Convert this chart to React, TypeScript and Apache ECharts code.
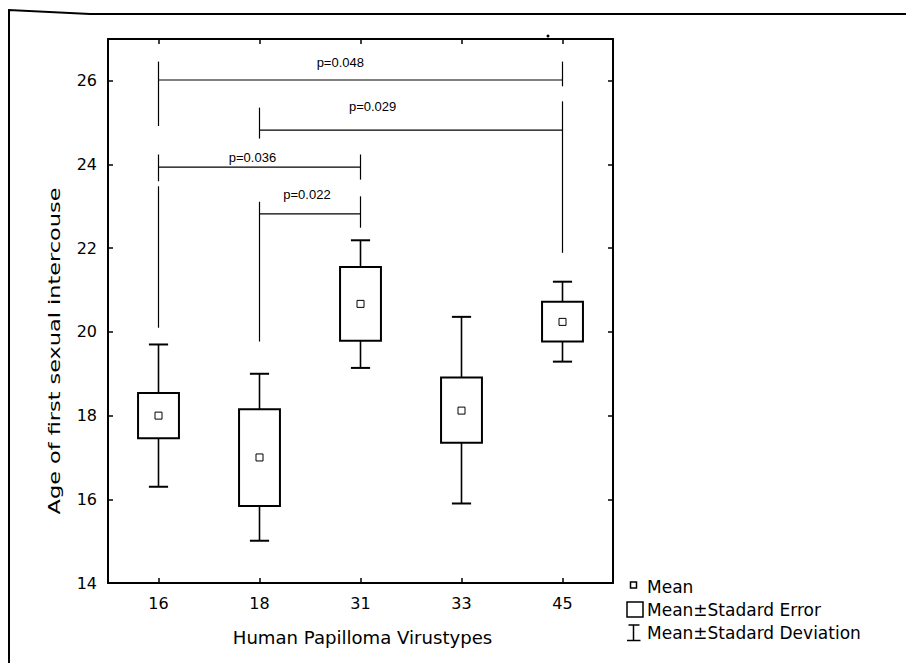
import React, { useEffect, useRef } from "react";
import * as echarts from "echarts";

// ---- data ----
const categories = ["16", "18", "31", "33", "45"];
const means = [18.0, 17.0, 20.67, 18.12, 20.24];
const seUpper = [18.54, 18.15, 21.55, 18.91, 20.72];
const seLower = [17.46, 15.84, 19.79, 17.35, 19.77];
const sdUpper = [19.7, 19.0, 22.19, 20.36, 21.2];
const sdLower = [16.3, 15.01, 19.14, 15.9, 19.29];

const yMin = 14;
const yMax = 27;
const yStep = 2;

// significance brackets (category index from/to, level of the horizontal line)
const bracketFrom = [0, 1, 0, 1];
const bracketTo = [4, 4, 2, 2];
const bracketLevel = [26.02, 24.82, 23.94, 22.82];
const bracketLabels = ["p=0.048", "p=0.029", "p=0.036", "p=0.022"];
const labelCat = [1.8, 2.12, 0.93, 1.47];
const labelLevel = [26.45, 25.39, 24.17, 23.28];

// vertical legs of the brackets (category, top value, bottom value)
const legCat = [0, 0, 0, 1, 1, 2, 2, 4, 4];
const legTop = [26.46, 24.24, 23.48, 25.36, 23.11, 24.24, 23.24, 26.46, 25.51];
const legBottom = [24.92, 23.6, 20.1, 24.62, 19.77, 23.64, 22.49, 25.87, 21.89];

const legendItems = ["Mean", "Mean±Stadard Error", "Mean±Stadard Deviation"];
const xTitle = "Human Papilloma Virustypes";
const yTitle = "Age of first sexual intercouse";

const FONT = "'DejaVu Sans', sans-serif";
const PFONT = "'Liberation Sans', Arial, sans-serif";

export default function App() {
  const ref = useRef<HTMLDivElement>(null);

  useEffect(() => {
    if (!ref.current) return;
    const chart = echarts.init(ref.current, undefined, {
      renderer: "svg",
      width: 906,
      height: 663,
    });

    const axisLine = { show: true, lineStyle: { color: "#000", width: 2 } };
    const axisTick = {
      show: true,
      inside: true,
      length: 5,
      lineStyle: { color: "#000", width: 1.5 },
    };

    const boxData = categories.map((_, i) => [
      i,
      means[i],
      seLower[i],
      seUpper[i],
      sdLower[i],
      sdUpper[i],
    ]);

    const option: any = {
      animation: false,
      backgroundColor: "#fff",
      grid: { left: 108, top: 39, width: 505, height: 544, show: false },
      xAxis: [
        {
          type: "category",
          data: categories,
          position: "bottom",
          boundaryGap: true,
          axisLine,
          axisTick: { ...axisTick, alignWithLabel: true },
          axisLabel: { color: "#000", fontFamily: FONT, fontSize: 16, margin: 12 },
          splitLine: { show: false },
        },
        {
          type: "category",
          data: categories,
          position: "top",
          boundaryGap: true,
          axisLine,
          axisTick: { ...axisTick, alignWithLabel: true },
          axisLabel: { show: false },
          splitLine: { show: false },
        },
      ],
      yAxis: [
        {
          type: "value",
          min: yMin,
          max: yMax,
          interval: yStep,
          position: "left",
          axisLine,
          axisTick,
          axisLabel: {
            color: "#000",
            fontFamily: FONT,
            fontSize: 16,
            margin: 11,
            showMaxLabel: false,
            formatter: (v: number) => (v === yMax ? "" : String(v)),
          },
          splitLine: { show: false },
        },
        {
          type: "value",
          min: yMin,
          max: yMax,
          interval: yStep,
          position: "right",
          axisLine,
          axisTick,
          axisLabel: { show: false },
          splitLine: { show: false },
        },
      ],
      series: [
        // bracket legs
        {
          type: "custom",
          coordinateSystem: "cartesian2d",
          xAxisIndex: 0,
          yAxisIndex: 0,
          silent: true,
          data: legCat.map((c, i) => [c, legTop[i], legBottom[i]]),
          renderItem: (params: any, api: any) => {
            const p1 = api.coord([api.value(0), api.value(1)]);
            const p2 = api.coord([api.value(0), api.value(2)]);
            return {
              type: "line",
              shape: { x1: p1[0], y1: p1[1], x2: p2[0], y2: p2[1] },
              style: { stroke: "#000", lineWidth: 1.2 },
            };
          },
        },
        // bracket horizontal lines
        {
          type: "custom",
          coordinateSystem: "cartesian2d",
          xAxisIndex: 0,
          yAxisIndex: 0,
          silent: true,
          data: bracketFrom.map((f, i) => [f, bracketLevel[i], bracketTo[i]]),
          renderItem: (params: any, api: any) => {
            const p1 = api.coord([api.value(0), api.value(1)]);
            const p2 = api.coord([api.value(2), api.value(1)]);
            return {
              type: "line",
              shape: { x1: p1[0], y1: p1[1], x2: p2[0], y2: p2[1] },
              style: { stroke: "#000", lineWidth: 1.2 },
            };
          },
        },
        // bracket labels
        {
          type: "custom",
          coordinateSystem: "cartesian2d",
          xAxisIndex: 0,
          yAxisIndex: 0,
          silent: true,
          data: labelCat.map((c, i) => [0, labelLevel[i], c, i]),
          renderItem: (params: any, api: any) => {
            const base = api.coord([0, api.value(1)]);
            const band = api.size([1, 0])[0];
            const idx = api.value(3);
            return {
              type: "text",
              x: base[0] + api.value(2) * band,
              y: base[1],
              style: {
                text: bracketLabels[idx],
                fontFamily: PFONT,
                fontSize: 13,
                fill: "#000",
                textAlign: "center",
                textVerticalAlign: "middle",
                align: "center",
                verticalAlign: "middle",
              },
            };
          },
        },
        // mean / SE / SD boxes
        {
          type: "custom",
          coordinateSystem: "cartesian2d",
          xAxisIndex: 0,
          yAxisIndex: 0,
          silent: true,
          data: boxData,
          renderItem: (params: any, api: any) => {
            const i = api.value(0);
            const band = api.size([1, 0])[0];
            const bw = band * 0.405;
            const cw = band * 0.19;
            const pm = api.coord([i, api.value(1)]);
            const x = pm[0];
            const yMean = pm[1];
            const ySeL = api.coord([i, api.value(2)])[1];
            const ySeU = api.coord([i, api.value(3)])[1];
            const ySdL = api.coord([i, api.value(4)])[1];
            const ySdU = api.coord([i, api.value(5)])[1];
            const stroke = { stroke: "#000", lineWidth: 1.6 };
            return {
              type: "group",
              children: [
                { type: "line", shape: { x1: x, y1: ySdU, x2: x, y2: ySeU }, style: stroke },
                { type: "line", shape: { x1: x, y1: ySeL, x2: x, y2: ySdL }, style: stroke },
                {
                  type: "line",
                  shape: { x1: x - cw / 2, y1: ySdU, x2: x + cw / 2, y2: ySdU },
                  style: { stroke: "#000", lineWidth: 2 },
                },
                {
                  type: "line",
                  shape: { x1: x - cw / 2, y1: ySdL, x2: x + cw / 2, y2: ySdL },
                  style: { stroke: "#000", lineWidth: 2 },
                },
                {
                  type: "rect",
                  shape: { x: x - bw / 2, y: ySeU, width: bw, height: ySeL - ySeU },
                  style: { fill: "#fff", stroke: "#000", lineWidth: 2 },
                },
                {
                  type: "rect",
                  shape: { x: x - 3.5, y: yMean - 3.5, width: 7, height: 7 },
                  style: { fill: "none", stroke: "#000", lineWidth: 1 },
                },
              ],
            };
          },
        },
      ],
      graphic: [
        // outer frame
        {
          type: "polyline",
          shape: { points: [[9, 663], [9, 10], [90, 14], [906, 14]] },
          style: { stroke: "#000", lineWidth: 2, fill: "none" },
        },
        { type: "circle", shape: { cx: 548, cy: 36, r: 1.5 }, style: { fill: "#000" } },
        // axis titles
        {
          type: "text",
          x: 362.5,
          y: 638,
          scaleX: 1.065,
          style: {
            text: xTitle,
            fontFamily: FONT,
            fontSize: 17,
            fill: "#000",
            textAlign: "center",
            textVerticalAlign: "middle",
            align: "center",
            verticalAlign: "middle",
          },
        },
        {
          type: "text",
          x: 55,
          y: 351,
          rotation: Math.PI / 2,
          scaleX: 1.4,
          style: {
            text: yTitle,
            fontFamily: FONT,
            fontSize: 16,
            fill: "#000",
            textAlign: "center",
            textVerticalAlign: "middle",
            align: "center",
            verticalAlign: "middle",
          },
        },
        // legend
        {
          type: "rect",
          shape: { x: 630.5, y: 582, width: 6, height: 6 },
          style: { fill: "none", stroke: "#000", lineWidth: 1.5 },
        },
        {
          type: "rect",
          shape: { x: 627, y: 602, width: 16, height: 15 },
          style: { fill: "none", stroke: "#000", lineWidth: 1.5 },
        },
        { type: "line", shape: { x1: 633.5, y1: 625, x2: 633.5, y2: 640.5 }, style: { stroke: "#000", lineWidth: 1.5 } },
        { type: "line", shape: { x1: 628.5, y1: 625, x2: 639.5, y2: 625 }, style: { stroke: "#000", lineWidth: 1.5 } },
        { type: "line", shape: { x1: 627, y1: 640.5, x2: 640.5, y2: 640.5 }, style: { stroke: "#000", lineWidth: 1.5 } },
        ...legendItems.map((t, i) => ({
          type: "text",
          x: 647,
          y: [586.7, 609.7, 633.3][i],
          style: {
            text: t,
            fontFamily: FONT,
            fontSize: 17,
            fill: "#000",
            textAlign: "left",
            textVerticalAlign: "middle",
            align: "left",
            verticalAlign: "middle",
          },
        })),
      ],
    };

    chart.setOption(option);
    return () => {
      chart.dispose();
    };
  }, []);

  return (
    <div
      ref={ref}
      style={{ position: "fixed", left: 0, top: 0, width: 906, height: 663, background: "#fff" }}
    />
  );
}
